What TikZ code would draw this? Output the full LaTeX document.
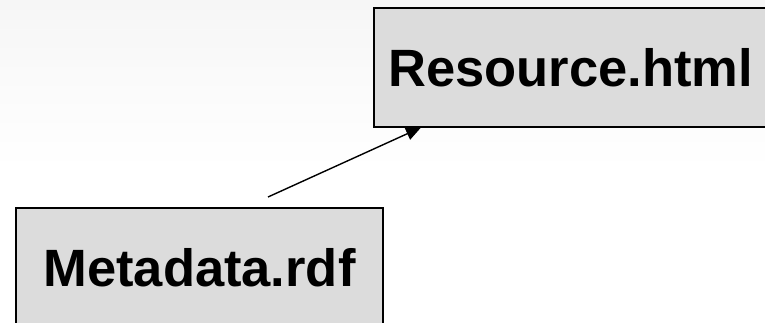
\documentclass[tikz,border=0pt]{standalone}
\usepackage{fontspec}
\setmainfont{Liberation Sans}
\usetikzlibrary{arrows.meta}
\definecolor{boxfill}{HTML}{DCDCDC}
\definecolor{bgtop}{HTML}{F6F6F6}
\tikzset{
  filebox/.style={draw=black, line width=1.5pt, fill=boxfill, rectangle,
    minimum width=#1, minimum height=119pt, inner sep=0pt,
    font=\fontsize{52.5pt}{60pt}\selectfont\bfseries},
  link/.style={line width=1.4pt, -{Triangle[length=15pt,width=13pt]}}
}
\begin{document}
\begin{tikzpicture}[x=1pt,y=-1pt]
  \useasboundingbox (0,0) rectangle (765,323);
  \clip (0,0) rectangle (765,323);
  \fill[white] (0,0) rectangle (765,323);
  \shade[top color=bgtop, bottom color=white] (0,0) rectangle (765,170);
  \node[filebox=393pt] (res) at (570.5,67.5) {Resource.html};
  \node[filebox=367pt] (meta) at (199.5,267.5) {Metadata.rdf};
  \coordinate (start) at (268,197);
  \coordinate (tip) at (421,127.5);
  \draw[link] (start) -- (tip);
\end{tikzpicture}
\end{document}
